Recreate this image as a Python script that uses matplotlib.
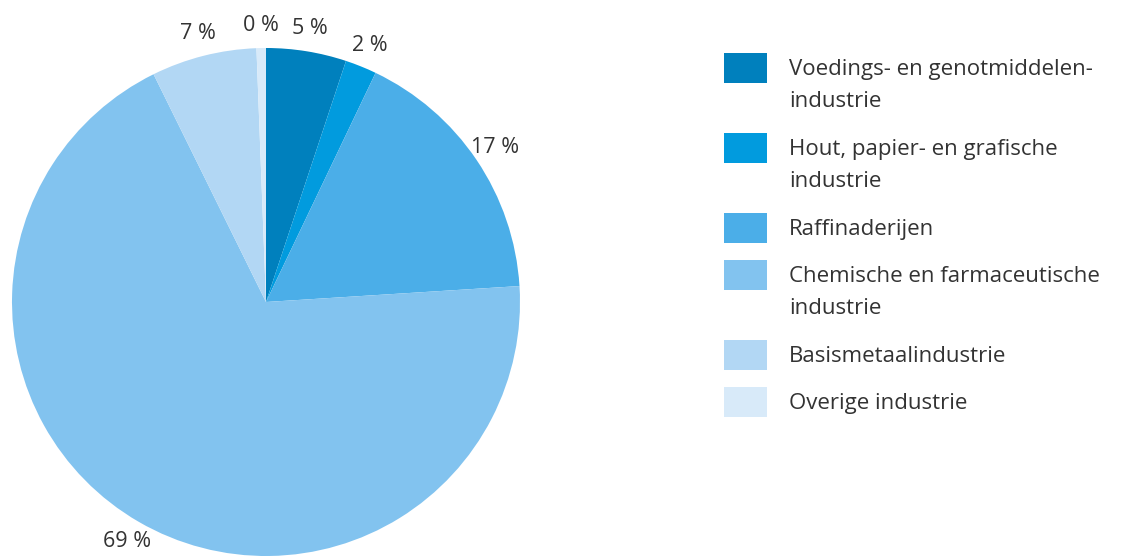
import matplotlib.pyplot as plt
from matplotlib.patches import Rectangle

# Data
categories = ["Voedings- en genotmiddelen-\nindustrie",
              "Hout, papier- en grafische\nindustrie",
              "Raffinaderijen",
              "Chemische en farmaceutische\nindustrie",
              "Basismetaalindustrie",
              "Overige industrie"]
shares = [5.1, 2.0, 16.9, 68.7, 6.7, 0.6]
share_labels = ["5 %", "2 %", "17 %", "69 %", "7 %", "0 %"]
colors = ["#0080bd", "#019bde", "#4baee8", "#82c3ef", "#b2d7f4", "#d8eaf9"]

plt.rcParams['font.family'] = ['Open Sans', 'DejaVu Sans']
text_color = "#333333"
W, H = 1122, 557

fig = plt.figure(figsize=(W / 100, H / 100), dpi=100)

# Pie, centre (266, 302) px, radius 254 px
cx, cy, r = 266, 302, 254
ax = fig.add_axes([(cx - r) / W, (H - cy - r) / H, 2 * r / W, 2 * r / H])
wedges, texts = ax.pie(shares, labels=share_labels, colors=colors,
                       startangle=90, counterclock=False, labeldistance=1.09,
                       wedgeprops=dict(linewidth=0),
                       textprops=dict(fontsize=15.5, color=text_color))
for t in texts:
    t.set_ha('center')
    t.set_va('center')
ax.set_xlim(-1, 1)
ax.set_ylim(-1, 1)
ax.set_aspect('equal')
ax.axis('off')

# Legend drawn in pixel coordinates
lax = fig.add_axes([0, 0, 1, 1])
lax.set_xlim(0, W)
lax.set_ylim(H, 0)
lax.axis('off')
top = 53
for cat, col in zip(categories, colors):
    lines = cat.split("\n")
    lax.add_patch(Rectangle((724, top), 43, 30, facecolor=col, edgecolor='none'))
    for k, line in enumerate(lines):
        lax.text(789, top + 22 + k * 32, line, fontsize=16, color=text_color,
                 ha='left', va='baseline')
    top += 47 + 33 * (len(lines) - 1)

fig.savefig("out.png", dpi=100)
